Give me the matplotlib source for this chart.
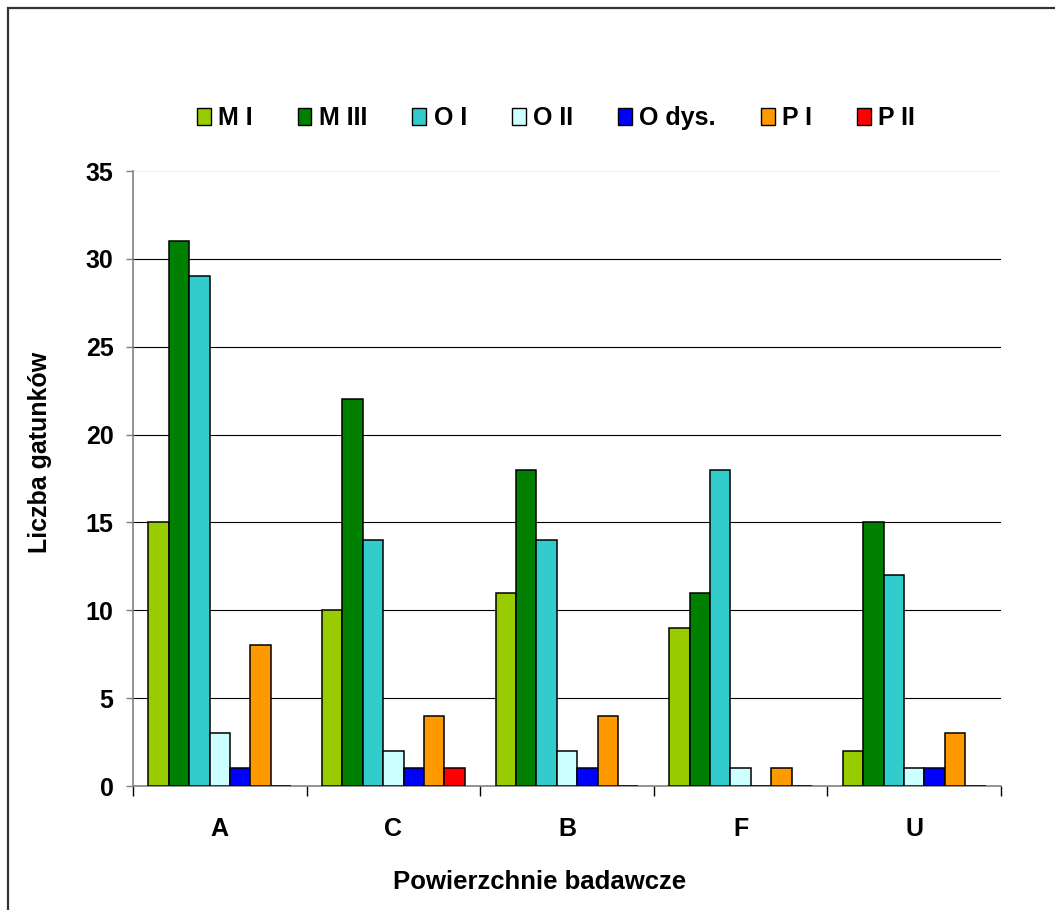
import matplotlib as mpl
mpl.use('Agg')
import matplotlib.pyplot as plt
from matplotlib.patches import Rectangle, Patch
import numpy as np

plt.rcParams['font.family'] = ['Liberation Sans', 'DejaVu Sans']
plt.rcParams['font.weight'] = 'bold'

categories = ["A", "C", "B", "F", "U"]
series = ["M I", "M III", "O I", "O II", "O dys.", "P I", "P II"]
colors = ["#99CC00", "#008000", "#33CCCC", "#CCFFFF", "#0000FF", "#FF9900", "#FF0000"]
values = [
    [15, 10, 11, 9, 2],    # M I
    [31, 22, 18, 11, 15],  # M III
    [29, 14, 14, 18, 12],  # O I
    [3, 2, 2, 1, 1],       # O II
    [1, 1, 1, 0, 1],       # O dys.
    [8, 4, 4, 1, 3],       # P I
    [0, 1, 0, 0, 0],       # P II
]

FS = 18

fig = plt.figure(figsize=(10.55, 9.1), dpi=100)
ax = fig.add_axes([133/1055, 1-786/910, 868/1055, 615/910])

# outer chart border (cropped on right and bottom)
fig.patches.append(Rectangle((8/1055, -0.1), 1.2, 1.1 - 8/910, transform=fig.transFigure,
                             fill=False, edgecolor='#333333', linewidth=1.6))

n = len(series)
gap = 1.5
w = 1.0 / (n + gap)
x = np.arange(len(categories))
for i in range(n):
    offs = (i - (n - 1) / 2) * w
    ax.bar(x + offs, values[i], width=w, color=colors[i], edgecolor='black',
           linewidth=1.1, zorder=3, label=series[i])

ax.set_xlim(-0.5, len(categories) - 0.5)
ax.set_ylim(0, 35)
ax.set_yticks(range(0, 36, 5))
for yv in range(5, 35, 5):
    ax.axhline(yv, color='black', linewidth=0.8, zorder=1)

ax.set_xticks(x)
ax.set_xticklabels(categories)
ax.set_xticks(np.arange(-0.5, len(categories), 1), minor=True)
ax.tick_params(axis='x', which='major', length=0, pad=22, labelsize=FS)
ax.tick_params(axis='x', which='minor', length=7, color='black', width=1)
ax.tick_params(axis='y', length=5, color='#808080', width=1, labelsize=FS, pad=9)

for s in ['top', 'right']:
    ax.spines[s].set_visible(False)
ax.spines['left'].set_color('#808080')
ax.spines['bottom'].set_color('#808080')
ax.spines['left'].set_linewidth(1.2)
ax.spines['bottom'].set_linewidth(1.2)
ax.axhline(35, color='#eeeeee', linewidth=0.8, zorder=1)

ax.set_ylabel("Liczba gatunków", fontsize=FS, fontweight='bold')
ax.yaxis.set_label_coords(-(133 - 40) / 868, (786 - 452) / 615)
ax.set_xlabel("Powierzchnie badawcze", fontsize=18.5, fontweight='bold')
ax.xaxis.set_label_coords((540 - 133) / 868, -(882 - 786) / 615)
ax.xaxis.label.set_va('center')
ax.yaxis.label.set_va('center')

handles = [Patch(facecolor=c, edgecolor='black', linewidth=1.0) for c in colors]
ax.legend(handles, series, ncol=7, loc='center', bbox_to_anchor=(556/1055, 1-118/910),
          bbox_transform=fig.transFigure, frameon=False, fontsize=FS,
          handlelength=0.55, handleheight=0.7, handletextpad=0.3, columnspacing=1.8)

plt.savefig('out.png', dpi=100)
plt.close()
